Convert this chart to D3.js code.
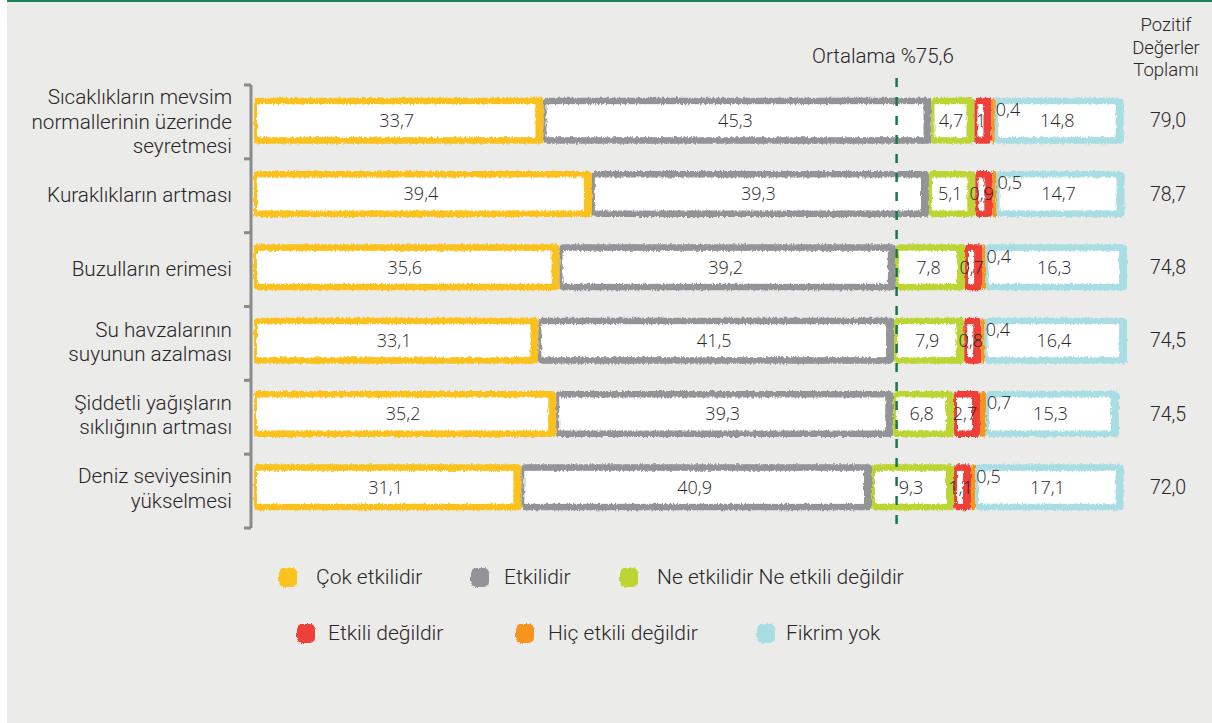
<!DOCTYPE html>
<html>
<head>
<meta charset="utf-8">
<script src="https://cdn.jsdelivr.net/npm/d3@7"></script>
<style>
  body { margin: 0; background: #fff; }
  text { fill: #2a2627; }
  .lbl { font-family: Roboto, "Liberation Sans", sans-serif; font-weight: 300; }
</style>
</head>
<body>
<div id="chart"></div>
<script>
// categories and series
var categories = [
  "Sıcaklıkların mevsim\nnormallerinin üzerinde\nseyretmesi",
  "Kuraklıkların artması",
  "Buzulların erimesi",
  "Su havzalarının\nsuyunun azalması",
  "Şiddetli yağışların\nsıklığının artması",
  "Deniz seviyesinin\nyükselmesi"
];
var seriesNames = ["Çok etkilidir", "Etkilidir", "Ne etkilidir Ne etkili değildir",
  "Etkili değildir", "Hiç etkili değildir", "Fikrim yok"];
var cokEtkili   = [33.7, 39.4, 35.6, 33.1, 35.2, 31.1];
var etkili      = [45.3, 39.3, 39.2, 41.5, 39.3, 40.9];
var neNe        = [4.7, 5.1, 7.8, 7.9, 6.8, 9.3];
var etkiliDegil = [1.0, 0.9, 0.7, 0.8, 2.7, 1.1];
var hicEtkili   = [0.4, 0.5, 0.4, 0.4, 0.7, 0.5];
var fikrimYok   = [14.8, 14.7, 16.3, 16.4, 15.3, 17.1];
var pozitifToplam = [79.0, 78.7, 74.8, 74.5, 74.5, 72.0];
var ortalama = 75.6;

var seriesValues = [cokEtkili, etkili, neNe, etkiliDegil, hicEtkili, fikrimYok];
var colors = ["#fbc11a", "#929497", "#bdd532", "#ee4037", "#f7941e", "#a8dde4"];

const width = 1212;
const height = 723;

var svg = d3.select("#chart").append("svg")
    .attr("width", width)
    .attr("height", height)
    .style("display", "block");

// rough hand-drawn edges
var defs = svg.append("defs");
var f = defs.append("filter").attr("id", "rough")
    .attr("filterUnits", "userSpaceOnUse")
    .attr("x", -400).attr("y", -700).attr("width", width + 800).attr("height", height + 1400);
f.append("feTurbulence").attr("type", "fractalNoise")
    .attr("baseFrequency", "0.6 0.2").attr("numOctaves", 2).attr("seed", 4)
    .attr("result", "noise");
f.append("feDisplacementMap").attr("in", "SourceGraphic").attr("in2", "noise")
    .attr("scale", 4).attr("xChannelSelector", "R").attr("yChannelSelector", "G");

// panel background
svg.append("rect").attr("x", 7).attr("y", 0)
    .attr("width", width - 7).attr("height", height)
    .attr("fill", "#ebebea");
svg.append("rect").attr("x", 7).attr("y", 0)
    .attr("width", width - 7).attr("height", 2)
    .attr("fill", "#1a8457");

var x = d3.scaleLinear().domain([0, 100]).range([254, 1104]);
var y = d3.scaleBand().domain(d3.range(categories.length)).range([84, 524]);
var bracket = d3.scaleLinear().domain([0, categories.length]).range([85, 528]);

const barH = 46;
const pad = 3;
var minW = [0, 0, 0, 14, 3, 0];

var fmt = (v) => (v % 1 === 0 ? String(v) : v.toFixed(1).replace(".", ","));
var fmt1 = (v) => v.toFixed(1).replace(".", ",");

// bracket axis
var ax = svg.append("g").attr("stroke", "#8b8b8d").attr("stroke-width", 3).attr("fill", "none");
ax.append("line").attr("x1", 251).attr("x2", 251)
    .attr("y1", bracket(0)).attr("y2", bracket(categories.length));
ax.selectAll("line.tick").data(d3.range(categories.length + 1)).enter()
    .append("line").attr("class", "tick")
    .attr("x1", 244).attr("x2", 251)
    .attr("y1", (d) => bracket(d)).attr("y2", (d) => bracket(d));

// category labels
categories.forEach((c, i) => {
    var lines = c.split("\n");
    var yc = y(i) + y.bandwidth() / 2 + 1;
    var t = svg.append("text")
        .attr("class", "lbl")
        .attr("text-anchor", "end")
        .style("font-size", "20.7px");
    lines.forEach((l, j) => {
        t.append("tspan").attr("x", 232)
            .attr("y", yc + (j - (lines.length - 1) / 2) * 24.5)
            .attr("dy", "0.35em")
            .text(l);
    });
});

// segments
var segs = [];
categories.forEach((c, i) => {
    var start = x(0);
    seriesValues.forEach((vals, s) => {
        var w = Math.max(x(vals[i]) - x(0), minW[s]) + (s === 4 ? 0 : pad);
        segs.push({row: i, s: s, v: vals[i], x0: start, w: w});
        start += w;
    });
});

var rows = svg.selectAll("g.seg")
    .data(segs)
    .enter()
    .append("g")
    .attr("class", "seg")
    .attr("filter", "url(#rough)");

rows.append("rect")
    .attr("x", (d) => d.x0)
    .attr("y", (d) => y(d.row) + y.bandwidth() / 2 - barH / 2)
    .attr("width", (d) => d.w)
    .attr("height", barH)
    .attr("rx", 4)
    .attr("fill", (d) => colors[d.s]);

rows.filter((d) => d.w - 11 > 3)
    .append("rect")
    .attr("x", (d) => d.x0 + 3)
    .attr("y", (d) => y(d.row) + y.bandwidth() / 2 - barH / 2 + 6.5)
    .attr("width", (d) => d.w - 11)
    .attr("height", barH - 13)
    .attr("fill", "#fff");

// value labels
svg.selectAll("text.val")
    .data(segs)
    .enter()
    .append("text")
    .attr("class", "val")
    .attr("x", (d) => d.s === 4 ? d.x0 + d.w + 1 : d.x0 + (d.w - 4) / 2)
    .attr("y", (d) => y(d.row) + y.bandwidth() / 2 + (d.s === 4 ? -11 : 0))
    .attr("dy", "0.35em")
    .attr("text-anchor", (d) => d.s === 4 ? "start" : "middle")
    .style("font-family", "Open Sans, sans-serif")
    .style("font-weight", 300)
    .style("font-size", "18px")
    .text((d) => fmt(d.v));

// average line
svg.append("line")
    .attr("x1", x(ortalama)).attr("x2", x(ortalama))
    .attr("y1", 78).attr("y2", 531)
    .attr("stroke", "#17784b")
    .attr("stroke-width", 2.5)
    .attr("stroke-dasharray", "9,10");
svg.append("text")
    .attr("class", "lbl")
    .attr("x", 883).attr("y", 56).attr("dy", "0.35em")
    .attr("text-anchor", "middle")
    .style("font-size", "20.5px")
    .text("Ortalama %" + fmt1(ortalama));

// totals column
var hdr = svg.append("text")
    .attr("class", "lbl")
    .attr("text-anchor", "middle")
    .style("font-size", "18.5px");
["Pozitif", "Değerler", "Toplamı"].forEach((l, j) => {
    hdr.append("tspan").attr("x", 1166).attr("y", 25 + j * 22.5).attr("dy", "0.35em").text(l);
});
svg.selectAll("text.tot")
    .data(pozitifToplam)
    .enter()
    .append("text")
    .attr("class", "tot lbl")
    .attr("x", 1168)
    .attr("y", (d, i) => y(i) + y.bandwidth() / 2)
    .attr("dy", "0.35em")
    .attr("text-anchor", "middle")
    .style("font-size", "19.5px")
    .text((d) => fmt1(d));

// legend
var legendPos = [[279, 577], [471, 577], [620, 577], [297, 633], [516, 633], [757, 633]];
var leg = svg.selectAll("g.leg")
    .data(seriesNames)
    .enter()
    .append("g")
    .attr("class", "leg")
    .attr("transform", (d, i) => `translate(${legendPos[i][0]}, ${legendPos[i][1]})`);
leg.append("rect")
    .attr("x", 0).attr("y", -9)
    .attr("width", 18).attr("height", 19)
    .attr("rx", 5)
    .attr("fill", (d, i) => colors[i])
    .attr("filter", "url(#rough)");
leg.append("text")
    .attr("class", "lbl")
    .attr("x", (d, i) => [37, 33, 37, 31, 32, 29][i])
    .attr("y", 0)
    .attr("dy", "0.35em")
    .style("font-size", "21px")
    .text((d) => d);
</script>
</body>
</html>
